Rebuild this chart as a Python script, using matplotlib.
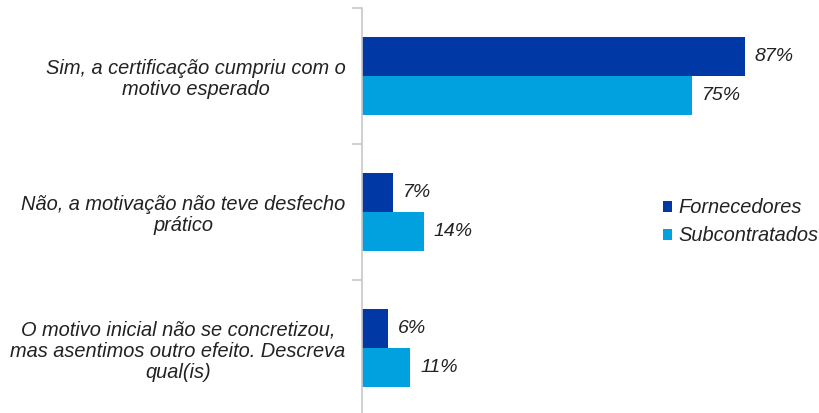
import matplotlib.pyplot as plt
import numpy as np

categories = [
    "Sim, a certificação cumpriu com o\nmotivo esperado",
    "Não, a motivação não teve desfecho\nprático",
    "O motivo inicial não se concretizou,\nmas asentimos outro efeito. Descreva\nqual(is)",
]
series = ["Fornecedores", "Subcontratados"]
fornecedores = [87, 7, 6]
subcontratados = [75, 14, 11]
colors = ["#0038A6", "#00A1DE"]

plt.rcParams['font.family'] = ['Liberation Sans', 'DejaVu Sans']

W, H = 820, 413
fig = plt.figure(figsize=(W / 100, H / 100), dpi=100)
ax = fig.add_axes([362 / W, 0, 1 - 362 / W, (413 - 8) / H])

y = np.arange(len(categories))
h = 0.285
b1 = ax.barh(y - h / 2, fornecedores, height=h, color=colors[0], label=series[0])
b2 = ax.barh(y + h / 2, subcontratados, height=h, color=colors[1], label=series[1])

for bars, vals in ((b1, fornecedores), (b2, subcontratados)):
    for bar, v in zip(bars, vals):
        ax.text(bar.get_width() + 2.2, bar.get_y() + bar.get_height() / 2,
                f"{v}%", va='center', ha='left', fontsize=14,
                style='italic', color='#222222')

ax.set_xlim(0, 104)
ax.set_ylim(-0.5 + 405 / 136, -0.5)

ax.set_yticks([-0.5, 0.5, 1.5])
ax.set_yticklabels([])
ax.set_yticks(y, minor=True)
ax.set_yticklabels(categories, minor=True, fontsize=14.4, style='italic',
                   color='#222222', ha='right', multialignment='center',
                   linespacing=1.15)
ax.tick_params(axis='y', which='minor', length=0, pad=12)
ax.tick_params(axis='y', which='major', length=7, color='#c8c8c8', width=1.2)
ax.set_xticks([])

for s in ['top', 'right', 'bottom']:
    ax.spines[s].set_visible(False)
ax.spines['left'].set_color('#c8c8c8')
ax.spines['left'].set_linewidth(1.2)

ax.legend(loc='center left', bbox_to_anchor=((663 - 362) / (W - 362), 1 - (222 - 8) / 405),
          frameon=False, prop={'size': 14.4, 'style': 'italic'},
          borderpad=0, borderaxespad=0,
          handlelength=0.45, handleheight=0.45, handletextpad=0.3, labelspacing=0.45,
          labelcolor='#222222')

fig.savefig('out.png', dpi=100)
